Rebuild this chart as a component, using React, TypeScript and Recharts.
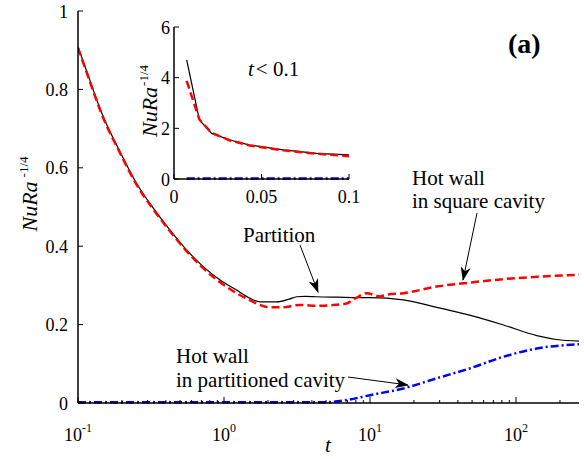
import { ComposedChart, LineChart, Line, XAxis, YAxis } from "recharts";

// main panel: t (log) vs NuRa^-1/4
const partitionT = [0.1, 0.115, 0.149, 0.194, 0.252, 0.328, 0.427, 0.556, 0.72, 0.94, 1.22, 1.51, 1.77, 2.3, 2.8, 3.15, 3.6, 4.3, 6, 8.5, 10, 16.9, 28.6, 48, 82, 139, 190, 270];
const partitionNu = [0.909, 0.845, 0.73, 0.641, 0.56, 0.497, 0.441, 0.39, 0.348, 0.314, 0.288, 0.267, 0.258, 0.258, 0.265, 0.271, 0.272, 0.271, 0.27, 0.269, 0.269, 0.263, 0.244, 0.224, 0.199, 0.172, 0.162, 0.158];

const squareT = [0.1, 0.115, 0.149, 0.194, 0.252, 0.328, 0.427, 0.556, 0.72, 0.94, 1.22, 1.51, 1.77, 2.07, 2.5, 3.3, 4.5, 5.6, 6.8, 8.1, 9.5, 11.7, 13, 16.9, 28.6, 48, 82, 139, 270];
const squareNu = [0.906, 0.842, 0.727, 0.638, 0.557, 0.494, 0.438, 0.387, 0.344, 0.308, 0.28, 0.262, 0.25, 0.244, 0.244, 0.25, 0.248, 0.25, 0.253, 0.269, 0.28, 0.272, 0.276, 0.28, 0.297, 0.307, 0.316, 0.322, 0.327];

const partitionedT = [0.1, 1, 5, 7, 10, 16.9, 28.6, 48, 82, 139, 270];
const partitionedNu = [0.002, 0.002, 0.002, 0.008, 0.02, 0.037, 0.063, 0.088, 0.118, 0.139, 0.15];

const xMajorTicks = [0.1, 1, 10, 100];
const xMinorTicks = [0.2, 0.3, 0.4, 0.5, 0.6, 0.7, 0.8, 0.9, 2, 3, 4, 5, 6, 7, 8, 9, 20, 30, 40, 50, 60, 70, 80, 90, 200];
const yTicks = [0, 0.2, 0.4, 0.6, 0.8, 1];

// inset: t < 0.1
const insetT = [0.00725, 0.0145, 0.0215, 0.032, 0.0434, 0.0625, 0.0815, 0.1];
const insetPartitionNu = [4.7, 2.33, 1.8, 1.54, 1.34, 1.15, 1.01, 0.95];
const insetSquareNu = [3.87, 2.35, 1.82, 1.52, 1.32, 1.13, 1.0, 0.9];
const insetPartitionedT = [0.00725, 0.1];
const insetPartitionedNu = [0.02, 0.02];
const insetXTicks = [0, 0.05, 0.1];
const insetYTicks = [0, 2, 4, 6];

const zip = (xs: number[], ys: number[]) => xs.map((t, i) => ({ t, v: ys[i] }));

const FONT = "Liberation Serif";
const allXTicks = [...xMajorTicks, ...xMinorTicks].sort((a, b) => a - b);
const isMajor = (v: number) => xMajorTicks.includes(v);

function BottomLogTick({ x, y, payload }: any) {
  const v = payload.value;
  const major = isMajor(v);
  return (
    <g>
      <line x1={x} x2={x} y1={y} y2={y - (major ? 6 : 3)} stroke="#000" />
      {major && (
        <text x={x} y={y + 38} textAnchor="middle" fontSize={18} fontFamily={FONT} fill="#000">
          <tspan>10</tspan>
          <tspan dy={-9} fontSize={12}>{Math.round(Math.log10(v))}</tspan>
        </text>
      )}
    </g>
  );
}

function TopLogTick({ x, y, payload }: any) {
  const major = isMajor(payload.value);
  return <line x1={x} x2={x} y1={y} y2={y + (major ? 6 : 3)} stroke="#000" />;
}

function LeftTick({ x, y, payload, gap = 10 }: any) {
  return (
    <g>
      <line x1={x} x2={x + 5} y1={y} y2={y} stroke="#000" />
      <text x={x - gap} y={y + 6.5} textAnchor="end" fontSize={18} fontFamily={FONT} fill="#000">
        {payload.value}
      </text>
    </g>
  );
}

function RightTick({ x, y }: any) {
  return <line x1={x} x2={x - 5} y1={y} y2={y} stroke="#000" />;
}

function InsetBottomTick({ x, y, payload }: any) {
  return (
    <g>
      <line x1={x} x2={x} y1={y} y2={y - 5} stroke="#000" />
      <text x={x} y={y + 24} textAnchor="middle" fontSize={18} fontFamily={FONT} fill="#000">
        {payload.value}
      </text>
    </g>
  );
}

function InsetTopTick({ x, y }: any) {
  return <line x1={x} x2={x} y1={y} y2={y + 5} stroke="#000" />;
}

const axisLine = { stroke: "#000", strokeWidth: 1.5 };

export default function App() {
  return (
    <div style={{ position: "absolute", left: 0, top: 0, width: 584, height: 459, background: "#fff" }}>
      <div style={{ position: "absolute", left: 0, top: 0 }}>
        <ComposedChart width={584} height={459} margin={{ top: 11, right: 5, bottom: 0, left: 0 }}>
          <XAxis
            xAxisId="b"
            dataKey="t"
            type="number"
            scale="log"
            domain={[0.1, 270]}
            allowDataOverflow
            ticks={allXTicks}
            interval={0}
            height={56}
            tickSize={0}
            tickMargin={0}
            tickLine={false}
            axisLine={axisLine}
            tick={(p: any) => <BottomLogTick {...p} />}
          />
          <XAxis
            xAxisId="top"
            orientation="top"
            dataKey="t"
            type="number"
            scale="log"
            domain={[0.1, 270]}
            allowDataOverflow
            ticks={allXTicks}
            interval={0}
            height={0}
            tickSize={0}
            tickMargin={0}
            tickLine={false}
            axisLine={axisLine}
            tick={(p: any) => <TopLogTick {...p} />}
          />
          <YAxis
            yAxisId="l"
            type="number"
            domain={[0, 1]}
            ticks={yTicks}
            interval={0}
            width={78}
            tickSize={0}
            tickMargin={0}
            tickLine={false}
            axisLine={axisLine}
            tick={(p: any) => <LeftTick {...p} />}
          />
          <YAxis
            yAxisId="r"
            orientation="right"
            type="number"
            domain={[0, 1]}
            ticks={yTicks}
            interval={0}
            width={0}
            tickSize={0}
            tickMargin={0}
            tickLine={false}
            axisLine={axisLine}
            tick={(p: any) => <RightTick {...p} />}
          />
          <Line xAxisId="b" yAxisId="l" data={zip(partitionT, partitionNu)} dataKey="v" type="monotone" stroke="#000" strokeWidth={1.2} dot={false} isAnimationActive={false} />
          <Line xAxisId="b" yAxisId="l" data={zip(squareT, squareNu)} dataKey="v" type="monotone" stroke="#ff0000" strokeWidth={2.5} strokeDasharray="8 4" dot={false} isAnimationActive={false} />
          <Line xAxisId="b" yAxisId="l" data={zip(partitionedT, partitionedNu)} dataKey="v" type="monotone" stroke="#0000ff" strokeWidth={2.5} strokeDasharray="8 3 2 3" dot={false} isAnimationActive={false} />
        </ComposedChart>
      </div>

      {/* inset */}
      <div style={{ position: "absolute", left: 120, top: 15 }}>
        <LineChart width={240} height={205} margin={{ top: 12, right: 11, bottom: 0, left: 0 }}>
          <XAxis xAxisId="b" dataKey="t" type="number" domain={[0, 0.1]} ticks={insetXTicks} interval={0} height={41} tickSize={0} tickMargin={0} tickLine={false} axisLine={axisLine} tick={(p: any) => <InsetBottomTick {...p} />} />
          <XAxis xAxisId="top" orientation="top" dataKey="t" type="number" domain={[0, 0.1]} ticks={insetXTicks} interval={0} height={0} tickSize={0} tickMargin={0} tickLine={false} axisLine={axisLine} tick={(p: any) => <InsetTopTick {...p} />} />
          <YAxis yAxisId="l" type="number" domain={[0, 6]} ticks={insetYTicks} interval={0} width={54} tickSize={0} tickMargin={0} tickLine={false} axisLine={axisLine} tick={(p: any) => <LeftTick {...p} gap={4} />} />
          <YAxis yAxisId="r" orientation="right" type="number" domain={[0, 6]} ticks={insetYTicks} interval={0} width={0} tickSize={0} tickMargin={0} tickLine={false} axisLine={axisLine} tick={(p: any) => <RightTick {...p} />} />
          <Line xAxisId="b" yAxisId="l" data={zip(insetT, insetPartitionNu)} dataKey="v" type="linear" stroke="#000" strokeWidth={1.2} dot={false} isAnimationActive={false} />
          <Line xAxisId="b" yAxisId="l" data={zip(insetT, insetSquareNu)} dataKey="v" type="linear" stroke="#ff0000" strokeWidth={2.5} strokeDasharray="8 4" dot={false} isAnimationActive={false} />
          <Line xAxisId="b" yAxisId="l" data={zip(insetPartitionedT, insetPartitionedNu)} dataKey="v" type="linear" stroke="#0000ff" strokeWidth={2.5} strokeDasharray="8 3 2 3" dot={false} isAnimationActive={false} />
        </LineChart>
      </div>

      {/* labels and annotations */}
      <svg width={584} height={459} style={{ position: "absolute", left: 0, top: 0, pointerEvents: "none" }}>
        <defs>
          <marker id="arrowHead" markerUnits="userSpaceOnUse" markerWidth={14} markerHeight={10} refX={13} refY={5} orient="auto">
            <path d="M0,0 L14,5 L0,10 L4,5 Z" fill="#000" />
          </marker>
        </defs>
        <text transform="translate(37,194) rotate(-90)" textAnchor="middle" fontSize={22} fill="#000" fontFamily={FONT}>
          <tspan fontStyle="italic">NuRa</tspan>
          <tspan dx={4} dy={-9} fontSize={13}>-1/4</tspan>
        </text>
        <text transform="translate(157,101) rotate(-90)" textAnchor="middle" fontSize={22} fill="#000" fontFamily={FONT}>
          <tspan fontStyle="italic">NuRa</tspan>
          <tspan dx={1} dy={-9} fontSize={13}>-1/4</tspan>
        </text>
        <text x={328} y={452} textAnchor="middle" fontSize={21} fontStyle="italic" fill="#000" fontFamily={FONT}>t</text>
        <text x={508} y={53} fontSize={28} fontWeight="bold" fill="#000" fontFamily={FONT}>(a)</text>
        <text x={248} y={76} fontSize={21} fill="#000" fontFamily={FONT}>
          <tspan fontStyle="italic">t</tspan>
          <tspan dx={2}>&lt; 0.1</tspan>
        </text>
        <text x={243} y={242} fontSize={21} fill="#000" fontFamily={FONT}>Partition</text>
        <line x1={300} y1={245} x2={318} y2={292} stroke="#000" strokeWidth={1} markerEnd="url(#arrowHead)" />
        <text x={412} y={185} fontSize={21} fill="#000" fontFamily={FONT}>Hot wall</text>
        <text x={412} y={208} fontSize={21} fill="#000" fontFamily={FONT}>in square cavity</text>
        <line x1={477} y1={213} x2={463} y2={280} stroke="#000" strokeWidth={1} markerEnd="url(#arrowHead)" />
        <text x={176} y={363} fontSize={21} fill="#000" fontFamily={FONT}>Hot wall</text>
        <text x={176} y={387} fontSize={21} fill="#000" fontFamily={FONT}>in partitioned cavity</text>
        <line x1={348} y1={377} x2={408} y2={385} stroke="#000" strokeWidth={1} markerEnd="url(#arrowHead)" />
      </svg>
    </div>
  );
}
